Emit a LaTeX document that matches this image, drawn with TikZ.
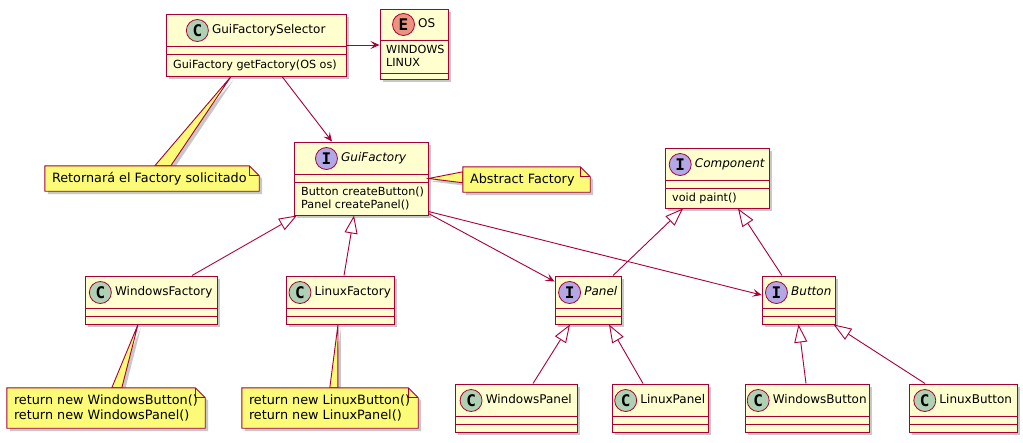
\documentclass[tikz,border=0pt]{standalone}
\usepackage{fontspec}
\setmainfont{DejaVu Sans}
\newfontfamily\circfont{DejaVu Sans Mono}
\usetikzlibrary{arrows.meta,fit,shadows,calc}
\definecolor{umlred}{HTML}{A80036}
\definecolor{classbg}{HTML}{FEFECE}
\definecolor{notebg}{HTML}{FBFB77}
\definecolor{cC}{HTML}{ADD1B2}
\definecolor{cI}{HTML}{B4A7E5}
\definecolor{cE}{HTML}{EB937F}
\tikzset{
  umlshadow/.style={drop shadow={shadow xshift=3pt,shadow yshift=-3pt,opacity=0.3,fill=black!70}},
  classbox/.style={draw=umlred, fill=classbg, line width=1pt, inner sep=0pt, rectangle, umlshadow},
  sepline/.style={draw=umlred, line width=1pt},
  cname/.style={font=\fontsize{12}{14}\selectfont, inner sep=0pt, text height=8.8pt, text depth=2.6pt},
  member/.style={font=\fontsize{11.2}{13}\selectfont, inner sep=0pt, anchor=west, align=left},
  badge/.style={circle, draw=umlred, line width=0.8pt, minimum size=22pt, inner sep=0pt,
    font=\fontsize{16}{16}\selectfont\circfont\bfseries},
  notebox/.style={draw=umlred, fill=notebg, line width=0.9pt, umlshadow},
  noteline/.style={draw=umlred, line width=0.9pt},
  notetext/.style={font=\fontsize{12.8}{14.5}\selectfont, inner sep=0pt, anchor=west, align=left},
  conn/.style={draw=umlred, line width=0.9pt},
  arr/.style={conn, -{Stealth[length=9pt,width=8pt,inset=4pt]}},
  inh/.style={conn, -{Triangle[length=18pt,width=13pt,fill=white]}}
}
% #1 name, #2 x1, #3 y1, #4 x2, #5 y2, #6 letter, #7 colour, #8 title
\newcommand\umlclass[8]{%
  \node[classbox, fit={(#2,#3) (#4,#5)}] (#1) {};
  \draw[sepline] (#2,#3+32) -- (#4,#3+32) (#2,#3+40) -- (#4,#3+40);
  \node[cname] (#1-t) at ({(#2+#4)/2+12.75},{#3+16.5}) {#8};
  \node[badge, fill=#7] (#1-b) at ([xshift=-14.5pt]#1-t.west) {#6};
}
\newcommand\umlnoteframe[5]{%
  \node[inner sep=0pt, fit={(#2,#3) (#4,#5)}] (#1) {};
}
\newcommand\umlnotebody[2]{%
  \path[notebox] (#1.north west) -- ([xshift=-10pt]#1.north east) -- ([yshift=-10pt]#1.north east)
    -- (#1.south east) -- (#1.south west) -- cycle;
  \draw[noteline] ([xshift=-10pt]#1.north east) |- ([yshift=-10pt]#1.north east);
  \node[notetext] (#1-t) at ([xshift=7pt]#1.west) {#2};
}
\begin{document}
\begin{tikzpicture}[x=1pt,y=-1pt]
\fill[white] (0,0) rectangle (1023,442);
\useasboundingbox (0,0) rectangle (1023,442);

% classes
\umlclass{gfs}{166}{14}{346}{76}{C}{cC}{GuiFactorySelector}
\node[member] (gfs-m) at (173,65) {GuiFactory getFactory(OS os)};

\node[classbox, fit={(380,9) (448,79)}] (os) {};
\draw[sepline] (380,40) -- (448,40) (380,73) -- (448,73);
\node[cname] (os-t) at (426.75,24.5) {OS};
\node[badge, fill=cE] (os-b) at ([xshift=-14.5pt]os-t.west) {E};
\node[member] (os-m) at (386,56) {WINDOWS\\LINUX};

\umlclass{gf}{294}{142}{428}{215}{I}{cI}{\itshape GuiFactory}
\node[member] (gf-m) at (301,198.5) {Button createButton()\\Panel createPanel()};

\umlclass{comp}{665}{148}{769}{208}{I}{cI}{\itshape Component}
\node[member] (comp-m) at (672,198) {void paint()};

\umlclass{wf}{85}{276}{217}{324}{C}{cC}{WindowsFactory}
\umlclass{lf}{286}{276}{394}{324}{C}{cC}{LinuxFactory}
\umlclass{panel}{555}{276}{621}{324}{I}{cI}{\itshape Panel}
\umlclass{button}{762}{276}{835}{324}{I}{cI}{\itshape Button}
\umlclass{wp}{455}{384}{577}{432}{C}{cC}{WindowsPanel}
\umlclass{lp}{612}{384}{708}{432}{C}{cC}{LinuxPanel}
\umlclass{wb}{745}{384}{869}{432}{C}{cC}{WindowsButton}
\umlclass{lb}{909}{384}{1017}{432}{C}{cC}{LinuxButton}

% connectors
\draw[arr] (gfs.east) -- (gfs.east -| os.west);
\draw[arr] ([xshift=26pt]gfs.south) -- ([xshift=-29pt]gf.north);
\draw[inh] ([xshift=41pt]wf.north) -- ([xshift=-64pt]gf.south);
\draw[inh] ([xshift=4pt]lf.north) -- ([xshift=-7pt]gf.south);
\draw[arr] ([yshift=2pt]gf.south east) -- ([yshift=-6pt]panel.north west);
\draw[arr] ([yshift=4pt]gf.south east) -- ([yshift=5pt]button.west);
\draw[inh] ([xshift=25pt]panel.north) -- ([xshift=-34pt]comp.south);
\draw[inh] ([xshift=-16.5pt]button.north) -- ([xshift=21pt]comp.south);
\draw[inh] ([xshift=17pt]wp.north) -- ([xshift=-18pt]panel.south);
\draw[inh] ([xshift=-17pt]lp.north) -- ([xshift=21pt]panel.south);
\draw[inh] ([xshift=-1pt]wb.north) -- (button.south);
\draw[inh] ([xshift=-38pt]lb.north) -- ([xshift=35pt]button.south);

% notes
\umlnoteframe{retn}{45}{166}{259}{191}
\umlnoteframe{absn}{463}{167}{590}{192}
\umlnoteframe{wfn}{7}{388}{205}{428}
\umlnoteframe{lfn}{242}{388}{418}{428}

\path[notebox] ([xshift=-25pt]gfs.south) -- ([xshift=110pt]retn.north west) -- ([xshift=126pt]retn.north west) -- cycle;
\path[notebox] (gf.east) -- ([yshift=-5pt]absn.north west) -- ([yshift=-16pt]absn.north west) -- cycle;
\path[notebox] ([xshift=-13pt]wf.south) -- ([xshift=105pt]wfn.north west) -- ([xshift=115pt]wfn.north west) -- cycle;
\path[notebox] ([xshift=-2pt]lf.south) -- ([xshift=88pt]lfn.north west) -- ([xshift=96pt]lfn.north west) -- cycle;

\umlnotebody{retn}{Retornará el Factory solicitado}
\umlnotebody{absn}{Abstract Factory}
\umlnotebody{wfn}{return new WindowsButton()\\return new WindowsPanel()}
\umlnotebody{lfn}{return new LinuxButton()\\return new LinuxPanel()}
\end{tikzpicture}
\end{document}
